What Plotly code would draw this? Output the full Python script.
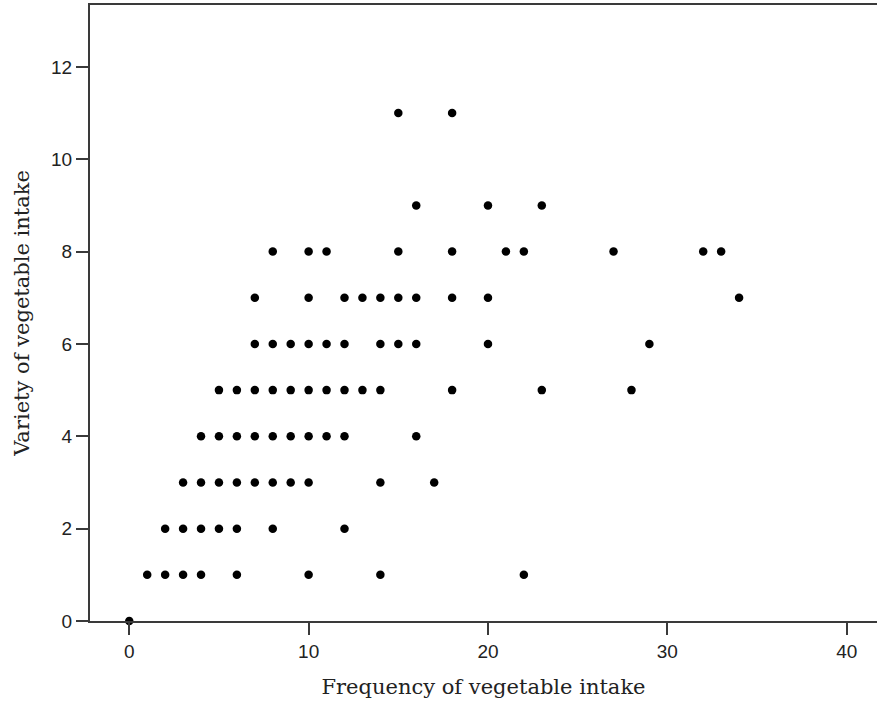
import plotly.graph_objects as go

# Data (frequency, variety)
freq = [0,
        1, 2, 3, 4, 6, 10, 14, 22,
        2, 3, 4, 5, 6, 8, 12,
        3, 4, 5, 6, 7, 8, 9, 10, 14, 17,
        4, 5, 6, 7, 8, 9, 10, 11, 12, 16,
        5, 6, 7, 8, 9, 10, 11, 12, 13, 14, 18, 23, 28,
        7, 8, 9, 10, 11, 12, 14, 15, 16, 20, 29,
        7, 10, 12, 13, 14, 15, 16, 18, 20, 34,
        8, 10, 11, 15, 18, 21, 22, 27, 32, 33,
        16, 20, 23,
        15, 18]
variety = [0,
           1, 1, 1, 1, 1, 1, 1, 1,
           2, 2, 2, 2, 2, 2, 2,
           3, 3, 3, 3, 3, 3, 3, 3, 3, 3,
           4, 4, 4, 4, 4, 4, 4, 4, 4, 4,
           5, 5, 5, 5, 5, 5, 5, 5, 5, 5, 5, 5, 5,
           6, 6, 6, 6, 6, 6, 6, 6, 6, 6, 6,
           7, 7, 7, 7, 7, 7, 7, 7, 7, 7,
           8, 8, 8, 8, 8, 8, 8, 8, 8, 8,
           9, 9, 9,
           11, 11]

x_ticks = [0, 10, 20, 30, 40]
y_ticks = [0, 2, 4, 6, 8, 10, 12]

fig = go.Figure(go.Scatter(
    x=freq, y=variety, mode="markers",
    marker=dict(color="black", size=8.5, line=dict(width=0)),
    cliponaxis=False, hoverinfo="x+y"))

axis_color = "#3a3a3a"
tick_font = dict(family="Liberation Sans", size=19, color="#222")
title_font = dict(family="DejaVu Serif", size=21, color="#222")
fig.update_layout(
    width=877, height=710,
    margin=dict(l=90, r=0, t=5, b=89),
    paper_bgcolor="white", plot_bgcolor="white",
    showlegend=False,
    xaxis=dict(range=[-2.19, 41.69], tickvals=x_ticks, ticks="outside", ticklen=12,
               tickwidth=2, tickcolor=axis_color, showline=True, linewidth=2,
               linecolor=axis_color, mirror=True, showgrid=False, zeroline=False,
               tickfont=tick_font, automargin=False,
               title=dict(text="Frequency of vegetable intake", font=title_font,
                          standoff=19)),
    yaxis=dict(range=[0, 13.34], tickvals=y_ticks, ticks="outside", ticklen=12,
               tickwidth=2, tickcolor=axis_color, showline=True, linewidth=2,
               linecolor=axis_color, mirror=False, showgrid=False, zeroline=False,
               tickfont=tick_font, automargin=False,
               title=dict(text="Variety of vegetable intake", font=title_font,
                          standoff=16)),
)

fig.write_html("out.html")
